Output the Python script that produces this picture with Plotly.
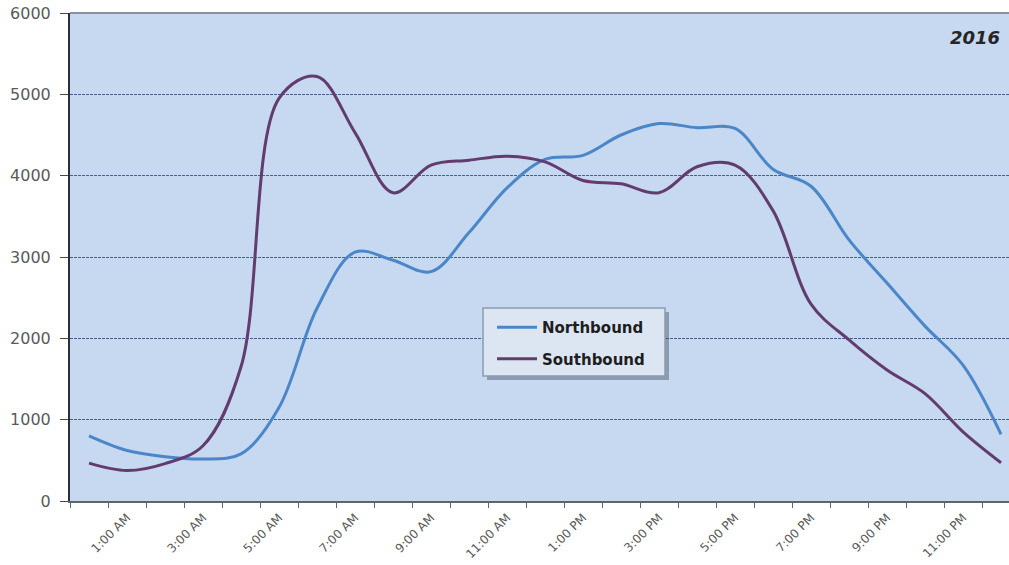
import plotly.graph_objects as go

# Hourly traffic counts by direction, 12:00 AM through the following 12:00 AM
hour_labels = [
    "12:00 AM", "1:00 AM", "2:00 AM", "3:00 AM", "4:00 AM", "5:00 AM",
    "6:00 AM", "7:00 AM", "8:00 AM", "9:00 AM", "10:00 AM", "11:00 AM",
    "12:00 PM", "1:00 PM", "2:00 PM", "3:00 PM", "4:00 PM", "5:00 PM",
    "6:00 PM", "7:00 PM", "8:00 PM", "9:00 PM", "10:00 PM", "11:00 PM",
    "12:00 AM",
]
hours = list(range(len(hour_labels)))

northbound = [800, 620, 545, 516, 580, 1150, 2370, 3060, 2960, 2820, 3300, 3850,
              4200, 4250, 4500, 4640, 4590, 4580, 4080, 3870, 3210, 2680, 2150,
              1670, 820]
southbound = [465, 375, 460, 680, 1650, 4950, 5220, 4530, 3790, 4130, 4190, 4240,
              4170, 3940, 3900, 3790, 4110, 4130, 3570, 2420, 1980, 1610, 1320,
              850, 470]

year_label = "2016"

# every other hour gets a label; tick marks sit on the category boundaries
label_vals = hours[1::2]
label_text = hour_labels[1::2]
boundary_vals = [h - 0.5 for h in hours]

W, H = 1009, 565
M_L, M_R, M_T, M_B = 70, 0, 13, 64
PW, PH = W - M_L - M_R, H - M_T - M_B


def px_x(px):
    return (px - M_L) / PW


def px_y(py):
    return (H - M_B - py) / PH


fig = go.Figure()
fig.add_trace(go.Scatter(
    x=hours, y=northbound, name="Northbound", mode="lines",
    line=dict(color="#4A86C8", width=3, shape="spline", smoothing=1.0),
    legendgroup="n",
))
fig.add_trace(go.Scatter(
    x=hours, y=southbound, name="Southbound", mode="lines",
    line=dict(color="#623C6E", width=3, shape="spline", smoothing=1.0),
    legendgroup="s",
))

tick_font = dict(family="DejaVu Sans", size=12, color="#5A5A5A")

# legend frame (drawn as shapes so its size is fixed)
box = dict(x0=483, x1=665, y0=308, y1=376)

fig.update_layout(
    width=W, height=H,
    margin=dict(l=M_L, r=M_R, t=M_T, b=M_B, pad=0, autoexpand=False),
    paper_bgcolor="white",
    plot_bgcolor="#C6D9F1",
    showlegend=True,
    legend=dict(
        x=px_x(492), y=px_y(311), xanchor="left", yanchor="top",
        bgcolor="rgba(0,0,0,0)", borderwidth=0,
        font=dict(family="DejaVu Sans", size=15, color="#1E1E1E", weight="bold"),
        itemwidth=40, traceorder="grouped", tracegroupgap=9,
    ),
    xaxis=dict(
        range=[-0.5, 24.21], automargin=False,
        tickmode="array", tickvals=label_vals, ticktext=label_text,
        tickangle=-45, ticks="", tickfont=tick_font, ticklabelstandoff=3,
        showgrid=False, zeroline=False,
        showline=True, linecolor="#5E646C", linewidth=2,
        minor=dict(tickmode="array", tickvals=boundary_vals, ticks="outside",
                   ticklen=5, tickcolor="#5E646C", tickwidth=1, showgrid=False),
    ),
    yaxis=dict(
        range=[0, 6000], automargin=False, tickmode="array",
        tickvals=[0, 1000, 2000, 3000, 4000, 5000, 6000],
        ticks="outside", ticklen=8, tickcolor="#4A4A4A", tickwidth=1,
        tickfont=dict(family="DejaVu Sans", size=16, color="#5A5A5A"),
        ticklabelstandoff=6,
        showgrid=True, gridcolor="#46608C", gridwidth=1, griddash="3px,1px",
        zeroline=False,
        showline=True, linecolor="#2B2F36", linewidth=2,
    ),
    annotations=[dict(
        text=year_label, xref="paper", yref="paper", x=px_x(1002), y=px_y(37),
        xanchor="right", yanchor="middle", showarrow=False,
        font=dict(family="DejaVu Sans", size=18, color="#262626",
                  weight="bold", style="italic"),
    )],
    shapes=[
        # top border of the plot area
        dict(type="line", xref="paper", yref="paper", x0=0, x1=1, y0=1, y1=1,
             line=dict(color="#8A919C", width=2), layer="above"),
        # drop shadow under the legend frame
        dict(type="rect", xref="paper", yref="paper",
             x0=px_x(box["x0"] + 4), x1=px_x(box["x1"] + 4),
             y0=px_y(box["y1"] + 4), y1=px_y(box["y0"] + 4),
             line=dict(width=0), fillcolor="rgba(70,80,100,0.45)", layer="above"),
        # legend frame
        dict(type="rect", xref="paper", yref="paper",
             x0=px_x(box["x0"]), x1=px_x(box["x1"]),
             y0=px_y(box["y1"]), y1=px_y(box["y0"]),
             line=dict(color="#8C9BB0", width=1.5), fillcolor="#DCE6F3",
             layer="above"),
    ],
)

fig.write_html("out.html")
